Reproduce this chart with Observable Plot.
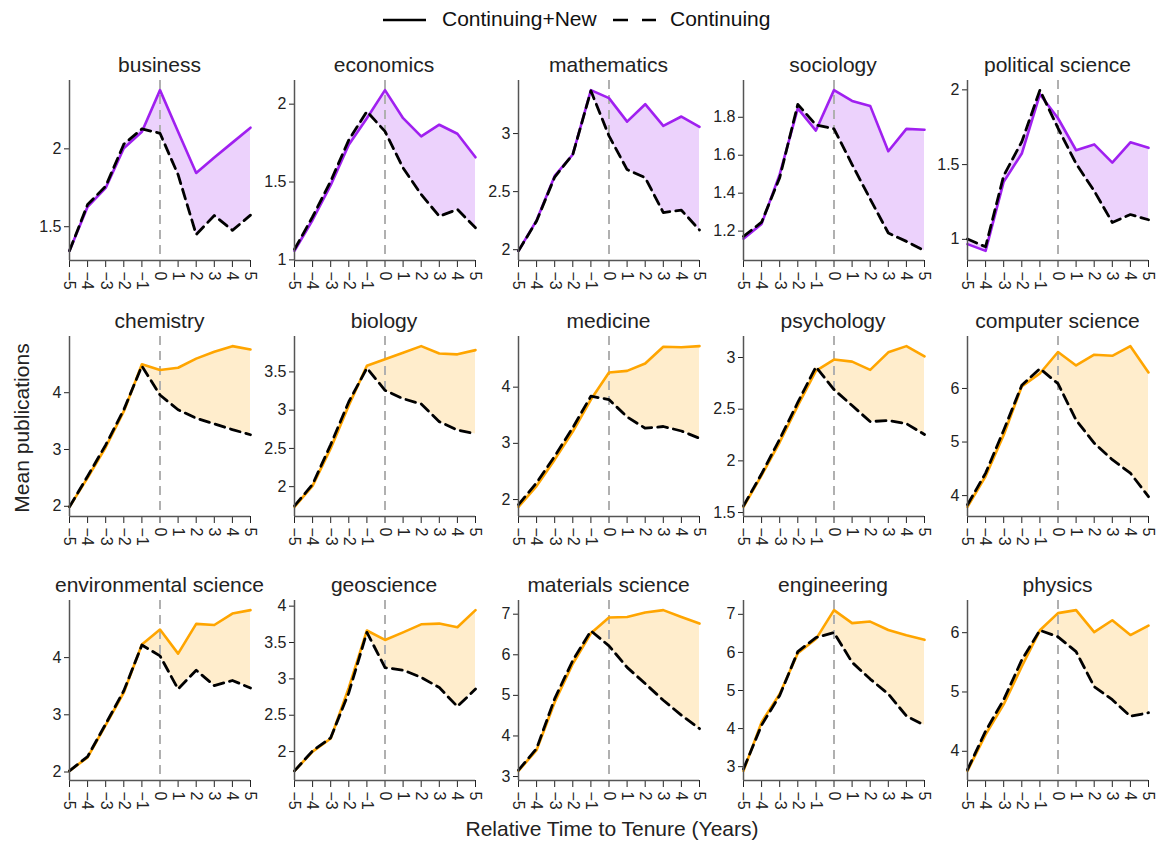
<!DOCTYPE html>
<html><head><meta charset="utf-8">
<script src="https://cdn.jsdelivr.net/npm/d3@7"></script>
<script src="https://cdn.jsdelivr.net/npm/@observablehq/plot@0.6"></script>
<style>
body{margin:0;background:#fff;font-family:"Liberation Sans",Arial,sans-serif;}
#root{position:relative;width:1160px;height:844px;overflow:hidden;background:#fff}
#root svg.panel{position:absolute}
#overlay{position:absolute;left:0;top:0}
</style></head>
<body><div id="root"></div>
<script>
const years = [-5,-4,-3,-2,-1,0,1,2,3,4,5];
const fields = ["business","economics","mathematics","sociology","political science",
  "chemistry","biology","medicine","psychology","computer science",
  "environmental science","geoscience","materials science","engineering","physics"];
const fieldColors = ["#A020F0","#A020F0","#A020F0","#A020F0","#A020F0",
  "#FFA500","#FFA500","#FFA500","#FFA500","#FFA500",
  "#FFA500","#FFA500","#FFA500","#FFA500","#FFA500"];
// Continuing+New (solid)
const continuingNew = [
  [1.345,1.628,1.749,2.004,2.11,2.377,2.11,1.845,1.944,2.04,2.136],
  [1.058,1.256,1.48,1.74,1.91,2.09,1.91,1.793,1.868,1.81,1.659],
  [1.99,2.253,2.635,2.82,3.374,3.305,3.103,3.253,3.066,3.147,3.057],
  [1.16,1.238,1.499,1.847,1.73,1.943,1.886,1.86,1.621,1.739,1.734],
  [0.968,0.923,1.385,1.574,1.97,1.81,1.596,1.635,1.513,1.649,1.612],
  [1.99,2.50,3.04,3.67,4.50,4.40,4.44,4.60,4.72,4.82,4.76],
  [1.736,2.01,2.50,3.06,3.58,3.665,3.75,3.837,3.74,3.73,3.785],
  [1.87,2.24,2.71,3.21,3.78,4.26,4.29,4.42,4.72,4.71,4.73],
  [1.555,1.86,2.18,2.535,2.87,2.98,2.96,2.88,3.05,3.11,3.01],
  [3.79,4.36,5.13,6.04,6.28,6.68,6.43,6.63,6.61,6.79,6.30],
  [2.02,2.255,2.82,3.39,4.23,4.49,4.07,4.59,4.57,4.77,4.83],
  [1.735,2.0,2.18,2.88,3.665,3.535,3.64,3.75,3.76,3.71,3.945],
  [3.14,3.65,4.83,5.78,6.53,6.92,6.93,7.04,7.10,6.93,6.77],
  [2.89,4.17,4.91,5.98,6.35,7.11,6.77,6.81,6.59,6.45,6.33],
  [3.67,4.28,4.79,5.43,6.04,6.33,6.38,6.01,6.21,5.96,6.12]
];
// Continuing (dashed)
const continuing = [
  [1.345,1.643,1.76,2.03,2.128,2.10,1.834,1.45,1.572,1.477,1.574],
  [1.068,1.277,1.505,1.77,1.953,1.825,1.59,1.42,1.28,1.324,1.207],
  [1.99,2.247,2.626,2.82,3.368,2.98,2.69,2.62,2.32,2.34,2.17],
  [1.172,1.247,1.482,1.868,1.76,1.739,1.551,1.369,1.19,1.146,1.096],
  [1.002,0.95,1.426,1.653,1.998,1.744,1.506,1.324,1.113,1.166,1.131],
  [1.99,2.53,3.08,3.70,4.47,3.96,3.70,3.55,3.45,3.35,3.26],
  [1.75,2.03,2.55,3.11,3.55,3.26,3.15,3.08,2.85,2.74,2.69],
  [1.91,2.30,2.77,3.28,3.84,3.78,3.47,3.27,3.30,3.22,3.09],
  [1.565,1.875,2.21,2.565,2.91,2.69,2.535,2.38,2.39,2.36,2.255],
  [3.83,4.42,5.22,6.06,6.37,6.09,5.41,4.98,4.67,4.42,3.98],
  [2.02,2.27,2.84,3.42,4.22,4.03,3.45,3.78,3.51,3.60,3.47],
  [1.735,2.01,2.19,2.81,3.64,3.155,3.12,3.02,2.88,2.62,2.86],
  [3.16,3.69,4.92,5.86,6.59,6.22,5.69,5.29,4.88,4.51,4.18],
  [2.94,4.09,4.87,6.02,6.39,6.52,5.74,5.30,4.91,4.33,4.09],
  [3.69,4.34,4.87,5.54,6.04,5.93,5.68,5.09,4.87,4.59,4.65]
];
const yTicks = [
  [1.5,2],[1,1.5,2],[2,2.5,3],[1.2,1.4,1.6,1.8],[1,1.5,2],
  [2,3,4],[2,2.5,3,3.5],[2,3,4],[1.5,2,2.5,3],[4,5,6],
  [2,3,4],[2,2.5,3,3.5,4],[3,4,5,6,7],[3,4,5,6,7],[4,5,6]
];
const legendLabels = ["Continuing+New","Continuing"];
const xLabel = "Relative Time to Tenure (Years)";
const yLabel = "Mean publications";

const root = document.getElementById("root");
const FONT = "'Liberation Sans', Arial, sans-serif";
const frameTops = [80, 336, 600];
const frameH = 180, mT = 8, mB = 50, mL = 43, mR = 7, frameW = 181, step = 224.5, x0 = 69;
const fmtX = d => d < 0 ? "\u2212" + (-d) : String(d);

fields.forEach((name, i) => {
  const row = Math.floor(i / 5), col = i % 5;
  const data = years.map((t, k) => ({t, cn: continuingNew[i][k], c: continuing[i][k]}));
  const vals = continuingNew[i].concat(continuing[i]);
  const lo = d3.min(vals), hi = d3.max(vals), pad = (hi - lo) * 0.06;
  const domain = [lo - pad, hi + pad];
  const color = fieldColors[i];
  const svg = Plot.plot({
    width: mL + frameW + mR, height: mT + frameH + mB,
    marginLeft: mL, marginRight: mR, marginTop: mT, marginBottom: mB,
    style: {fontSize: "16px", fontFamily: FONT, background: "transparent", overflow: "visible", color: "#222"},
    x: {domain: [-5, 5], ticks: years, tickFormat: fmtX, tickRotate: 90, tickSize: 7, tickPadding: 4, label: null},
    y: {domain, ticks: yTicks[i], tickFormat: d => String(d), tickSize: 5, tickPadding: 3, label: null},
    marks: [
      Plot.areaY(data, {x: "t", y1: "c", y2: "cn", fill: color, fillOpacity: 0.2}),
      Plot.ruleX([0], {stroke: "#b0b0b0", strokeWidth: 2, strokeDasharray: "9,6"}),
      Plot.lineY(data, {x: "t", y: "cn", stroke: color, strokeWidth: 2.6}),
      Plot.lineY(data, {x: "t", y: "c", stroke: "black", strokeWidth: 2.8, strokeDasharray: "10,6"}),
      Plot.ruleX([-5], {stroke: "#555", strokeWidth: 1.5}),
      Plot.ruleY([domain[0]], {stroke: "#555", strokeWidth: 1.5})
    ]
  });
  svg.classList.add("panel");
  svg.style.left = (x0 - mL + step * col) + "px";
  svg.style.top = (frameTops[row] - mT) + "px";
  root.appendChild(svg);
});

// overlay: titles, legend, axis labels
const ov = d3.select(root).append("svg").attr("id", "overlay")
  .attr("width", 1160).attr("height", 844).style("pointer-events", "none")
  .style("font-family", FONT);
const titleY = [66, 322, 586];
fields.forEach((name, i) => {
  const row = Math.floor(i / 5), col = i % 5;
  ov.append("text").attr("x", x0 + frameW / 2 + step * col).attr("y", titleY[row])
    .attr("text-anchor", "middle").attr("dominant-baseline", "middle")
    .attr("font-size", 21).attr("fill", "#222").text(name);
});
// legend
ov.append("line").attr("x1", 383).attr("x2", 426).attr("y1", 20).attr("y2", 20)
  .attr("stroke", "black").attr("stroke-width", 2.6);
ov.append("text").attr("x", 442).attr("y", 20).attr("dominant-baseline", "middle")
  .attr("font-size", 21).attr("fill", "#111").text(legendLabels[0]);
ov.append("line").attr("x1", 613).attr("x2", 656).attr("y1", 20).attr("y2", 20)
  .attr("stroke", "black").attr("stroke-width", 2.6).attr("stroke-dasharray", "15,14");
ov.append("text").attr("x", 670).attr("y", 20).attr("dominant-baseline", "middle")
  .attr("font-size", 21).attr("fill", "#111").text(legendLabels[1]);
// axis labels
ov.append("text").attr("x", 612).attr("y", 830).attr("text-anchor", "middle")
  .attr("dominant-baseline", "middle").attr("font-size", 21).attr("fill", "#222").text(xLabel);
ov.append("text").attr("transform", "translate(23,428) rotate(-90)").attr("text-anchor", "middle")
  .attr("dominant-baseline", "middle").attr("font-size", 21).attr("fill", "#222").text(yLabel);
</script>
</body></html>
